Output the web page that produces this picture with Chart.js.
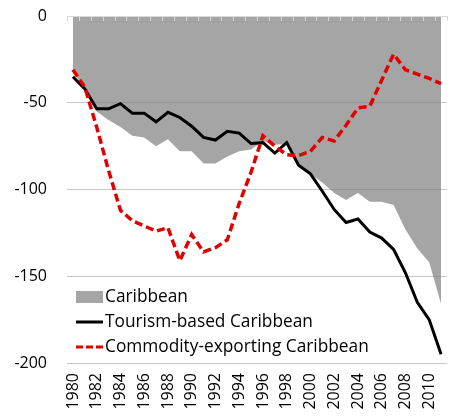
<!DOCTYPE html>
<html>
<head>
<meta charset="utf-8">
<script src="https://cdn.jsdelivr.net/npm/chart.js@4.4.0/dist/chart.umd.min.js"></script>
<style>
  html, body { margin: 0; padding: 0; background: #fff; }
  #wrap { width: 450px; height: 417px; }
</style>
</head>
<body>
<div id="wrap"><canvas id="chart"></canvas></div>
<script>
// Categories
const years = [
  '1980', '1981', '1982', '1983', '1984', '1985', '1986', '1987',
  '1988', '1989', '1990', '1991', '1992', '1993', '1994', '1995',
  '1996', '1997', '1998', '1999', '2000', '2001', '2002', '2003',
  '2004', '2005', '2006', '2007', '2008', '2009', '2010', '2011'
];

// Series values
const caribbean = [
  -32, -42, -55, -60, -64, -69, -70, -75, -71, -78, -78, -85, -85, -81, -78, -77,
  -72, -74, -74, -86, -91, -96, -102, -106, -102, -107, -107, -109, -123, -134, -142, -166
];
const tourismBased = [
  -35, -42, -53.5, -53.5, -50.5, -56, -56, -61, -55.5, -58.5, -63.5, -70, -71.5, -66.5, -67.5, -73.5,
  -73, -79, -73, -86, -91, -101, -111.5, -119, -117, -124.5, -128, -134.5, -148, -165, -175, -195
];
const commodityExporting = [
  -31, -41, -64, -89, -112, -118, -121, -124, -122, -141, -126, -136, -133.5, -129, -108, -90,
  -69, -75, -80, -80.5, -78, -70, -72, -63, -53, -52, -37, -22, -31, -33.5, -36, -39
];

const seriesNames = ['Caribbean', 'Tourism-based Caribbean', 'Commodity-exporting Caribbean'];
const yTicks = [0, -50, -100, -150, -200];

const FONT = "'Open Sans', sans-serif";
const areaColor = 'rgba(128, 128, 128, 0.71)';
const red = '#e00000';

// x axis line drawn along the top (value 0) with inward tick marks
const topAxis = {
  id: 'topAxis',
  afterDatasetsDraw(chart) {
    const { ctx, chartArea } = chart;
    const n = years.length;
    const step = (chartArea.right - chartArea.left) / n;
    ctx.save();
    ctx.strokeStyle = '#d9d9d9';
    ctx.lineWidth = 1;
    ctx.beginPath();
    ctx.moveTo(chartArea.left, chartArea.top + 0.5);
    ctx.lineTo(chartArea.right, chartArea.top + 0.5);
    for (let i = 0; i <= n; i++) {
      const x = Math.round(chartArea.left + i * step) + 0.5;
      ctx.moveTo(x, chartArea.top);
      ctx.lineTo(x, chartArea.top + 5);
    }
    ctx.stroke();
    ctx.restore();
  }
};

// legend placed inside the plot, lower left
const insideLegend = {
  id: 'insideLegend',
  afterDraw(chart) {
    const { ctx, chartArea } = chart;
    const x0 = chartArea.left + 9;
    const x1 = x0 + 27;
    const rows = [chartArea.bottom - 66, chartArea.bottom - 41, chartArea.bottom - 16];
    ctx.save();
    ctx.fillStyle = areaColor;
    ctx.fillRect(x0, rows[0] - 6, x1 - x0, 12);
    ctx.strokeStyle = '#000';
    ctx.lineWidth = 3;
    ctx.beginPath();
    ctx.moveTo(x0, rows[1]);
    ctx.lineTo(x1, rows[1]);
    ctx.stroke();
    ctx.strokeStyle = red;
    ctx.setLineDash([7, 3]);
    ctx.beginPath();
    ctx.moveTo(x0, rows[2]);
    ctx.lineTo(x1, rows[2]);
    ctx.stroke();
    ctx.setLineDash([]);
    ctx.fillStyle = '#000';
    ctx.font = '17.3px ' + FONT;
    ctx.textBaseline = 'middle';
    ctx.textAlign = 'left';
    seriesNames.forEach((name, i) => ctx.fillText(name, x1 + 2, rows[i]));
    ctx.restore();
  }
};

new Chart(document.getElementById('chart'), {
  type: 'line',
  data: {
    labels: years,
    datasets: [
      {
        label: seriesNames[0],
        data: caribbean,
        backgroundColor: areaColor,
        borderWidth: 0,
        borderColor: 'rgba(0,0,0,0)',
        fill: 'origin',
        pointRadius: 0,
        tension: 0,
        order: 2
      },
      {
        label: seriesNames[1],
        data: tourismBased,
        borderColor: '#000',
        borderWidth: 3,
        fill: false,
        pointRadius: 0,
        tension: 0,
        order: 1
      },
      {
        label: seriesNames[2],
        data: commodityExporting,
        borderColor: red,
        borderWidth: 3.5,
        borderDash: [8, 4],
        fill: false,
        pointRadius: 0,
        tension: 0,
        order: 0
      }
    ]
  },
  options: {
    responsive: true,
    maintainAspectRatio: false,
    animation: false,
    layout: { padding: { top: 16, right: 3, left: 0, bottom: 0 } },
    plugins: {
      legend: { display: false },
      tooltip: { enabled: false }
    },
    scales: {
      x: {
        offset: true,
        grid: { display: false },
        border: { display: false },
        ticks: {
          autoSkip: false,
          minRotation: 90,
          maxRotation: 90,
          padding: 2,
          color: '#000',
          font: { family: FONT, size: 16 },
          callback: (val, i) => (i % 2 === 0 ? years[i] : '')
        },
        afterFit: (scale) => {
          scale.height = 54;
          scale.paddingLeft = 0;
          scale.paddingRight = 0;
        }
      },
      y: {
        min: yTicks[yTicks.length - 1],
        max: yTicks[0],
        grid: { color: '#c8c8c8', drawTicks: false },
        border: { display: false },
        ticks: {
          stepSize: 50,
          padding: 20,
          color: '#000',
          font: { family: FONT, size: 16 }
        },
        afterFit: (scale) => {
          scale.width = 67;
          scale.paddingTop = 0;
          scale.paddingBottom = 0;
        }
      }
    }
  },
  plugins: [topAxis, insideLegend]
});
</script>
</body>
</html>
